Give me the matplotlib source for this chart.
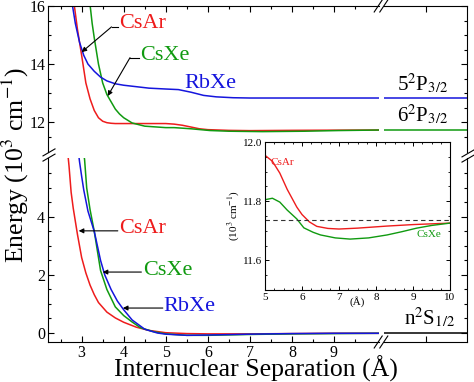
import matplotlib
matplotlib.use('Agg')
import matplotlib.pyplot as plt
from matplotlib.lines import Line2D

plt.rcParams['font.family'] = 'Liberation Serif'
plt.rcParams['mathtext.fontset'] = 'stix'

RED = '#ee1c1c'
GREEN = '#109a10'
BLUE = '#1515dd'

# upper (excited) potentials, 10^3 cm^-1
csar_up_r = [2.80, 2.90, 3.00, 3.10, 3.20, 3.30, 3.40, 3.50, 3.60, 3.70, 3.80, 4.00, 4.50,
             5.00, 5.20, 5.40, 5.60, 5.80, 6.00, 6.50, 7.00, 8.00, 9.00, 10.07]
csar_up_e = [16.3, 15.2, 14.3, 13.35, 12.8, 12.4, 12.15, 12.03, 11.98, 11.96, 11.95, 11.95, 11.95,
             11.95, 11.93, 11.89, 11.83, 11.77, 11.74, 11.715, 11.706, 11.716, 11.722, 11.727]

csxe_up_r = [3.18, 3.25, 3.30, 3.35, 3.40, 3.50, 3.60, 3.70, 3.80, 3.90, 4.00, 4.20, 4.50,
             5.00, 5.20, 5.60, 6.05, 6.50, 7.30, 8.30, 9.10, 10.07]
csxe_up_e = [16.3, 15.4, 14.9, 14.45, 14.0, 13.35, 12.95, 12.7, 12.45, 12.28, 12.15, 11.97, 11.86,
             11.81, 11.81, 11.77, 11.71, 11.686, 11.672, 11.686, 11.709, 11.727]

rbxe_up_r = [2.75, 2.85, 2.95, 3.05, 3.15, 3.30, 3.45, 3.60, 3.80, 4.00, 4.30, 4.60, 5.00,
             5.30, 5.60, 5.90, 6.20, 6.60, 7.00, 8.00, 9.00, 10.07]
rbxe_up_e = [16.3, 15.4, 14.75, 14.3, 14.0, 13.75, 13.55, 13.42, 13.32, 13.27, 13.22, 13.17, 13.14,
             13.12, 13.03, 12.92, 12.87, 12.84, 12.83, 12.83, 12.83, 12.83]

# ground potentials
csar_lo_r = [2.65, 2.70, 2.75, 2.80, 2.90, 3.00, 3.10, 3.20, 3.30, 3.40, 3.60, 3.80, 4.00,
             4.30, 4.60, 5.00, 5.50, 6.00, 7.00, 8.00, 9.00, 10.07]
csar_lo_e = [6.5, 5.75, 4.85, 4.3, 3.4, 2.6, 2.07, 1.65, 1.32, 1.05, 0.72, 0.52, 0.37,
             0.2, 0.09, 0.01, -0.02, -0.03, -0.03, -0.02, -0.01, -0.01]

csxe_lo_r = [3.02, 3.07, 3.12, 3.20, 3.30, 3.45, 3.60, 3.80, 4.00, 4.20, 4.40, 4.70, 5.00,
             5.50, 6.00, 7.00, 8.00, 9.00, 10.07]
csxe_lo_e = [6.5, 5.97, 5.0, 4.25, 3.5, 2.15, 1.5, 0.9, 0.6, 0.38, 0.18, 0.05, -0.03,
             -0.08, -0.08, -0.05, -0.03, -0.02, -0.01]

rbxe_lo_r = [2.90, 2.95, 3.00, 3.05, 3.15, 3.30, 3.45, 3.55, 3.70, 3.85, 4.00, 4.20, 4.50,
             4.80, 5.00, 5.50, 6.00, 7.00, 8.00, 9.00, 10.07]
rbxe_lo_e = [6.5, 5.9, 5.4, 4.93, 4.2, 3.5, 2.5, 2.0, 1.5, 1.1, 0.8, 0.45, 0.13,
             0.0, -0.04, -0.08, -0.07, -0.04, -0.02, -0.01, -0.01]

# asymptotes
asym_5p = 12.83
asym_6p = 11.73
asym_s = 0.0

# inset (zoom on CsAr / CsXe upper curves)
in_csar_r = [5.0, 5.2, 5.4, 5.6, 5.86, 6.0, 6.2, 6.4, 6.7, 7.0, 7.5, 8.3, 9.0, 10.0]
in_csar_e = [11.955, 11.935, 11.895, 11.84, 11.78, 11.755, 11.73, 11.715, 11.708, 11.706,
             11.709, 11.716, 11.721, 11.726]
in_csxe_r = [5.0, 5.2, 5.4, 5.6, 5.86, 6.05, 6.3, 6.5, 6.9, 7.3, 7.8, 8.3, 8.7, 9.1, 9.5, 10.0]
in_csxe_e = [11.805, 11.81, 11.797, 11.77, 11.74, 11.71, 11.695, 11.686, 11.676, 11.672,
             11.676, 11.686, 11.697, 11.709, 11.718, 11.726]
in_dashed = 11.735

W, H = 474, 382
fig = plt.figure(figsize=(W / 100, H / 100), dpi=100)


def px_box(x0, y0, x1, y1):
    return [x0 / W, 1 - y1 / H, (x1 - x0) / W, (y1 - y0) / H]


ax_tl = fig.add_axes(px_box(48, 6, 379, 152))
ax_tr = fig.add_axes(px_box(384, 6, 467, 152))
ax_bl = fig.add_axes(px_box(48, 158, 379, 342))
ax_br = fig.add_axes(px_box(384, 158, 467, 342))

xlim_l = (2.2, 10.07)
ylim_top = (10.97, 16.0)
ylim_bot = (-0.31, 6.03)
x_major = [3, 4, 5, 6, 7, 8, 9]
x_minor = [2.5, 3.5, 4.5, 5.5, 6.5, 7.5, 8.5, 9.5]
y_major_top = [12, 14, 16]
y_minor_top = [11.5, 12.5, 13, 13.5, 14.5, 15, 15.5]
y_major_bot = [0, 2, 4]
y_minor_bot = [0.5, 1, 1.5, 2.5, 3, 3.5, 4.5, 5, 5.5]

lw = 1.1
ax_tl.plot(csar_up_r, csar_up_e, color=RED, lw=lw)
ax_tl.plot(csxe_up_r, csxe_up_e, color=GREEN, lw=lw)
ax_tl.plot(rbxe_up_r, rbxe_up_e, color=BLUE, lw=lw)
ax_bl.plot(csar_lo_r, csar_lo_e, color=RED, lw=lw)
ax_bl.plot(csxe_lo_r, csxe_lo_e, color=GREEN, lw=lw)
ax_bl.plot(rbxe_lo_r, rbxe_lo_e, color=BLUE, lw=lw)

ax_tr.axhline(asym_5p, color=BLUE, lw=lw)
ax_tr.axhline(asym_6p, color=GREEN, lw=lw)
ax_br.axhline(asym_s, color='black', lw=lw)

for ax in (ax_tl, ax_bl):
    ax.set_xlim(*xlim_l)
    ax.set_xticks(x_major)
    ax.set_xticks(x_minor, minor=True)
for ax in (ax_tr, ax_br):
    ax.set_xlim(0, 1)
    ax.set_xticks([0.5])
    ax.set_xticks([], minor=True)
for ax in (ax_tl, ax_tr):
    ax.set_ylim(*ylim_top)
    ax.set_yticks(y_major_top)
    ax.set_yticks(y_minor_top, minor=True)
for ax in (ax_bl, ax_br):
    ax.set_ylim(*ylim_bot)
    ax.set_yticks(y_major_bot)
    ax.set_yticks(y_minor_bot, minor=True)

ax_tl.spines[['bottom', 'right']].set_visible(False)
ax_tr.spines[['bottom', 'left']].set_visible(False)
ax_bl.spines[['top', 'right']].set_visible(False)
ax_br.spines[['top', 'left']].set_visible(False)

common = dict(direction='in', labelsize=11.5, pad=2)
ax_tl.tick_params(which='both', top=True, bottom=False, left=True, right=False,
                  labelbottom=False, **common)
ax_tr.tick_params(which='both', top=True, bottom=False, left=False, right=True,
                  labelbottom=False, labelleft=False, **common)
ax_bl.tick_params(which='both', top=False, bottom=True, left=True, right=False, **common)
ax_br.tick_params(which='both', top=False, bottom=True, left=False, right=True,
                  labelbottom=False, labelleft=False, **common)
for ax in (ax_tl, ax_tr, ax_bl, ax_br):
    ax.tick_params(which='major', length=4, width=0.8)
    ax.tick_params(which='minor', length=2.5, width=0.8)
    ax.patch.set_alpha(0)

# labels with arrows
fs = 16
arr = dict(arrowstyle='-|>', color='black', lw=0.8, mutation_scale=7, shrinkA=0, shrinkB=0)

ax_tl.text(3.9, 15.38, 'CsAr', color=RED, fontsize=fs, va='center')
ax_tl.plot([3.86, 3.71], [15.28, 15.28], color='black', lw=0.8)
ax_tl.annotate('', xy=(3.0, 14.41), xytext=(3.71, 15.28), arrowprops=arr)
ax_tl.text(4.38, 14.28, 'CsXe', color=GREEN, fontsize=fs, va='center')
ax_tl.plot([4.36, 4.15], [14.22, 14.22], color='black', lw=0.8)
ax_tl.annotate('', xy=(3.62, 12.9), xytext=(4.15, 14.22), arrowprops=arr)
ax_tl.text(5.45, 13.33, 'RbXe', color=BLUE, fontsize=fs, va='center')

ax_bl.text(3.9, 3.6, 'CsAr', color=RED, fontsize=fs, va='center')
ax_bl.annotate('', xy=(2.93, 3.52), xytext=(3.86, 3.52), arrowprops=arr)
ax_bl.text(4.45, 2.17, 'CsXe', color=GREEN, fontsize=fs, va='center')
ax_bl.annotate('', xy=(3.5, 2.1), xytext=(4.42, 2.1), arrowprops=arr)
ax_bl.text(4.95, 0.93, 'RbXe', color=BLUE, fontsize=fs, va='center')
ax_bl.annotate('', xy=(3.98, 0.86), xytext=(4.93, 0.86), arrowprops=arr)

ax_tr.text(0.16, 12.9, '5$^2$P$_{3/2}$', fontsize=15, va='bottom')
ax_tr.text(0.16, 11.83, '6$^2$P$_{3/2}$', fontsize=15, va='bottom')
ax_br.text(0.24, 0.1, 'n$^2$S$_{1/2}$', fontsize=15, va='bottom')


# axis break marks
def brk(xc, yc, dx, dy, ox, oy):
    for s in (-1, 1):
        x0 = xc + s * ox
        y0 = yc + s * oy
        fig.add_artist(Line2D([(x0 - dx) / W, (x0 + dx) / W],
                              [1 - (y0 + dy) / H, 1 - (y0 - dy) / H],
                              color='black', lw=0.8))


brk(381, 6, 4, 6, 2.8, 0)
brk(381, 342, 4, 6, 2.8, 0)
brk(49, 155, 6, 3.5, 0, 2.6)
brk(468, 156, 6, 3.5, 0, 2.6)

fig.text(0.033, 1 - 165 / H, 'Energy (10$^3$ cm$^{-1}$)', rotation=90,
         ha='center', va='center', fontsize=18.5)
fig.text(256 / W, 1 - 377 / H, 'Internuclear Separation (Å)',
         ha='center', va='baseline', fontsize=18.5)

# inset
ax_in = fig.add_axes(px_box(265, 142, 450, 290))
ax_in.plot(in_csar_r, in_csar_e, color=RED, lw=1.0)
ax_in.plot(in_csxe_r, in_csxe_e, color=GREEN, lw=1.0)
ax_in.axhline(in_dashed, color='#333333', lw=0.8, ls=(0, (4, 3)))
ax_in.set_xlim(5, 10)
ax_in.set_ylim(11.5, 12.0)
ax_in.set_xticks([5, 6, 7, 8, 9, 10])
ax_in.set_xticks([5 + 0.25 * i for i in range(21)], minor=True)
ax_in.set_yticks([11.6, 11.8, 12.0])
ax_in.set_yticklabels(['11.6', '11.8', '12.0'])
ax_in.set_yticks([11.5 + 0.05 * i for i in range(11)], minor=True)
ax_in.tick_params(which='both', direction='in', top=True, right=True, labelsize=8, pad=2)
ax_in.tick_params(which='major', length=3, width=0.7)
ax_in.tick_params(which='minor', length=1.5, width=0.6)
for sp in ax_in.spines.values():
    sp.set_linewidth(0.8)
ax_in.set_xlabel('(Å)', fontsize=8, labelpad=-4)
ax_in.set_ylabel('(10$^3$ cm$^{-1}$)', fontsize=8, labelpad=1)
ax_in.text(5.15, 11.93, 'CsAr', color=RED, fontsize=8, va='center')
ax_in.text(9.1, 11.686, 'CsXe', color=GREEN, fontsize=8, va='center')

fig.savefig('out.png', dpi=100)
